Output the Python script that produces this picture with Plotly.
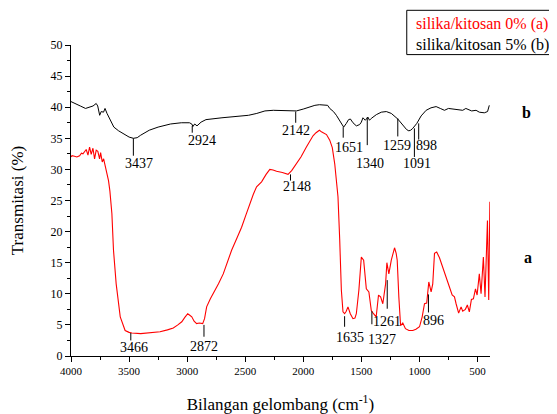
import plotly.graph_objects as go

# ---------------- data ----------------
wn_a = [4000, 3991, 3970, 3950, 3926, 3910, 3897, 3880, 3869, 3854, 3840, 3826, 3811, 3797,
        3783, 3769, 3754, 3745, 3731, 3719, 3703, 3691, 3677, 3665, 3648, 3634, 3611, 3576,
        3534, 3500, 3476, 3400, 3347, 3280, 3233, 3170, 3119, 3080, 3046, 3020, 2995, 2980,
        2960, 2940, 2918, 2895, 2866, 2850, 2832, 2800, 2775, 2730, 2689, 2650, 2617, 2570,
        2531, 2495, 2460, 2430, 2402, 2385, 2359, 2320, 2288, 2260, 2230, 2180, 2131, 2100,
        2058, 2020, 1973, 1940, 1916, 1890, 1861, 1840, 1800, 1772, 1750, 1729, 1701, 1686,
        1672, 1658, 1644, 1630, 1615, 1595, 1572, 1555, 1543, 1521, 1500, 1480, 1468, 1457,
        1435, 1414, 1395, 1372, 1352, 1334, 1315, 1291, 1280, 1263, 1242, 1214, 1200, 1191,
        1177, 1162, 1143, 1120, 1090, 1057, 1030, 999, 976, 956, 937, 919, 899, 885, 870, 851,
        827, 793, 756, 718, 698, 684, 662, 641, 627, 604, 587, 570, 552, 535, 517, 503, 484,
        469, 449, 435, 414, 403, 393]
tr_a = [32.0, 32.2, 32.1, 32.0, 32.2, 32.6, 32.5, 32.9, 33.2, 32.3, 33.6, 32.4, 33.4, 31.7,
        33.1, 32.9, 31.7, 32.7, 31.2, 31.7, 30.4, 29.1, 28.2, 26.5, 22.9, 17.0, 11.6, 6.3,
        4.1, 3.8, 3.7, 3.6, 3.7, 3.8, 3.9, 4.2, 4.5, 5.0, 5.5, 6.2, 6.8, 6.6,
        6.3, 5.6, 5.2, 5.3, 5.2, 6.0, 7.9, 9.2, 10.0, 11.6, 13.2, 15.3, 17.0, 19.0,
        20.7, 22.6, 24.5, 26.0, 27.2, 27.5, 28.0, 29.2, 30.0, 29.9, 29.7, 29.5, 29.2, 29.8,
        30.9, 32.0, 33.6, 34.6, 35.4, 35.9, 36.3, 36.0, 35.6, 34.7, 33.5, 30.9, 25.6, 18.6,
        10.6, 7.1, 6.8, 7.2, 7.9, 6.8, 6.0, 6.1, 6.8, 10.6, 15.9, 15.4, 13.0, 10.8,
        10.3, 7.3, 6.8, 6.3, 9.8, 9.5, 8.4, 11.6, 15.0, 13.2, 15.4, 17.4, 16.5, 15.4,
        9.5, 4.9, 5.3, 4.4, 4.1, 4.1, 4.3, 4.7, 6.3, 8.4, 8.5, 11.9, 10.3, 11.6, 16.5, 16.7,
        15.8, 13.8, 11.9, 9.8, 9.5, 8.4, 6.9, 7.9, 7.2, 7.5, 8.2, 7.1, 9.1, 9.2, 10.8, 9.8, 13.2,
        10.0, 15.9, 9.5, 21.8, 9.0, 24.8]

wn_b = [4000, 3960, 3920, 3875, 3840, 3810, 3783, 3770, 3753, 3740, 3720, 3707, 3690, 3660,
        3631, 3590, 3540, 3500, 3463, 3430, 3400, 3360, 3326, 3250, 3200, 3143, 3050, 2980,
        2960, 2950, 2935, 2915, 2880, 2838, 2700, 2600, 2471, 2400, 2330, 2258, 2150, 2059,
        2000, 1950, 1900, 1861, 1820, 1790, 1772, 1740, 1715, 1690, 1672, 1652, 1629, 1610,
        1594, 1572, 1543, 1515, 1500, 1486, 1466, 1443, 1430, 1414, 1371, 1328, 1285, 1242,
        1186, 1143, 1110, 1091, 1075, 1057, 1022, 985, 942, 900, 856, 820, 784, 750, 713,
        670, 627, 600, 584, 550, 512, 484, 441, 413, 398]
tr_b = [40.9, 40.6, 40.2, 39.8, 40.0, 40.2, 40.6, 40.2, 38.7, 39.3, 39.2, 39.8, 39.0, 37.8,
        36.8, 36.2, 35.6, 35.2, 35.0, 35.1, 35.5, 36.0, 36.3, 36.8, 37.0, 37.3, 37.5, 37.5,
        37.3, 36.9, 37.3, 37.0, 37.6, 38.0, 38.3, 38.5, 38.7, 39.0, 39.4, 39.5, 39.4, 39.4,
        39.7, 40.0, 40.3, 40.4, 40.3, 40.3, 39.8, 39.3, 38.7, 38.0, 37.4, 36.8, 37.4, 38.0,
        38.1, 37.5, 37.0, 37.2, 37.6, 38.3, 37.9, 38.4, 37.9, 38.2, 38.8, 39.2, 39.3, 39.0,
        38.1, 37.2, 36.4, 36.2, 36.3, 36.6, 37.4, 38.6, 39.5, 39.9, 40.1, 39.8, 39.5, 39.8, 39.7,
        39.5, 39.5, 39.8, 39.7, 39.4, 39.5, 39.2, 39.1, 39.3, 40.3]

series_names = ["silika/kitosan 0% (a)", "silika/kitosan 5% (b)"]
series_tags = ["a", "b"]

# peak labels (text) for each spectrum
peaks_a = ["3466", "2872", "2148", "1635", "1327", "1261", "896"]
peaks_b = ["3437", "2924", "2142", "1651", "1340", "1259", "1091", "898"]

x_ticks = [4000, 3500, 3000, 2500, 2000, 1500, 1000, 500]
y_ticks = [0, 5, 10, 15, 20, 25, 30, 35, 40, 45, 50]

# ---------------- layout helpers (positions of marker lines / texts) ----------------
# (line x, line y0, line y1, text x, text y) in data units
pos_a = [(3485, 3.7, 2.5, 3456, 1.35),
         (2855, 5.0, 3.1, 2855, 1.45),
         (2110, 29.2, 28.2, 2050, 27.3),
         (1644, 6.4, 4.7, 1601, 2.96),
         (1409, 7.2, 5.1, 1326, 2.6),
         (1277, 12.2, 7.6, 1280, 5.5),
         (922, 9.9, 7.0, 879, 5.7)]
pos_b = [(3463, 35.0, 32.2, 3418, 31.0),
         (2956, 37.0, 35.9, 2868, 34.6),
         (2065, 39.3, 37.5, 2059, 36.2),
         (1656, 36.8, 35.1, 1607, 33.6),
         (1449, 38.4, 33.9, 1424, 30.9),
         (1186, 38.2, 35.3, 1189, 33.9),
         (1043, 36.6, 32.0, 1021, 31.0),
         (1006, 37.4, 34.8, 936, 33.9)]

FONT = "Liberation Serif, Times New Roman, serif"
OFF = 8  # default page body margin
W, H = 557 - OFF, 414 - OFF
ML, MT = 70.7 - OFF, 44.7 - OFF
MR = W - (490 - OFF)
MB = H - (355.7 - OFF)

fig = go.Figure()
fig.add_trace(go.Scatter(x=wn_b, y=tr_b, mode="lines", name=series_names[1],
                         line=dict(color="#000000", width=1)))
fig.add_trace(go.Scatter(x=wn_a, y=tr_a, mode="lines", name=series_names[0],
                         line=dict(color="#ff0000", width=1.1)))

shapes = []
annotations = []
for lab, (lx, y0, y1, tx, ty) in list(zip(peaks_a, pos_a)) + list(zip(peaks_b, pos_b)):
    shapes.append(dict(type="line", xref="x", yref="y", x0=lx, x1=lx, y0=y0, y1=y1,
                       line=dict(color="black", width=1)))
    annotations.append(dict(x=tx, y=ty, xref="x", yref="y", text=lab, showarrow=False,
                            xanchor="center", yanchor="middle",
                            font=dict(family=FONT, size=14, color="black")))

pw = W - ML - MR
ph = H - MT - MB
def px(page_x):
    return (page_x - OFF - ML) / pw
def py(page_y):
    return (H - MB - (page_y - OFF)) / ph

# legend box (partly cut by the page edge like the reference)
shapes.append(dict(type="rect", xref="paper", yref="paper",
                   x0=px(406.7), x1=px(580), y0=py(54.3), y1=py(10),
                   line=dict(color="black", width=1), fillcolor="white", layer="above"))
annotations.append(dict(x=px(414), y=py(23.3), xref="paper", yref="paper",
                        text=series_names[0], showarrow=False, xanchor="left", yanchor="middle",
                        font=dict(family=FONT, size=16, color="#ff0000")))
annotations.append(dict(x=px(414), y=py(44.3), xref="paper", yref="paper",
                        text=series_names[1], showarrow=False, xanchor="left", yanchor="middle",
                        font=dict(family=FONT, size=16, color="black")))

# series tags a / b
annotations.append(dict(x=px(527), y=py(112), xref="paper", yref="paper", text="<b>%s</b>" % series_tags[1],
                        showarrow=False, xanchor="center", yanchor="middle",
                        font=dict(family=FONT, size=16, color="black")))
annotations.append(dict(x=px(528), y=py(257), xref="paper", yref="paper", text="<b>%s</b>" % series_tags[0],
                        showarrow=False, xanchor="center", yanchor="middle",
                        font=dict(family=FONT, size=16, color="black")))

fig.update_layout(
    width=W, height=H,
    margin=dict(l=ML, r=MR, t=MT, b=MB, pad=0, autoexpand=False),
    paper_bgcolor="white", plot_bgcolor="white",
    showlegend=False,
    font=dict(family=FONT, color="black"),
    shapes=shapes, annotations=annotations,
    xaxis=dict(range=[4000, 392], tickmode="array", tickvals=x_ticks,
               ticktext=[str(v) for v in x_ticks],
               showline=True, linecolor="black", linewidth=1, mirror=False,
               showgrid=False, zeroline=False,
               ticks="outside", ticklen=5, tickwidth=1, tickcolor="black",
               tickfont=dict(family=FONT, size=11, color="black"),
               minor=dict(dtick=250, tick0=0, ticks="outside", ticklen=3, tickcolor="black",
                          showgrid=False),
               title=dict(text="Bilangan gelombang (cm<sup>-1</sup>)",
                          font=dict(family=FONT, size=17, color="black"), standoff=22)),
    yaxis=dict(range=[0, 50], tickmode="array", tickvals=y_ticks,
               ticktext=[str(v) for v in y_ticks],
               showline=True, linecolor="black", linewidth=1, mirror=False,
               showgrid=False, zeroline=False,
               ticks="outside", ticklen=5, tickwidth=1, tickcolor="black",
               tickfont=dict(family=FONT, size=12, color="black"),
               minor=dict(dtick=2.5, tick0=0, ticks="outside", ticklen=3, tickcolor="black",
                          showgrid=False),
               title=dict(text="Transmitasi (%)",
                          font=dict(family=FONT, size=17, color="black"), standoff=24)),
)

fig.write_html("out.html")
